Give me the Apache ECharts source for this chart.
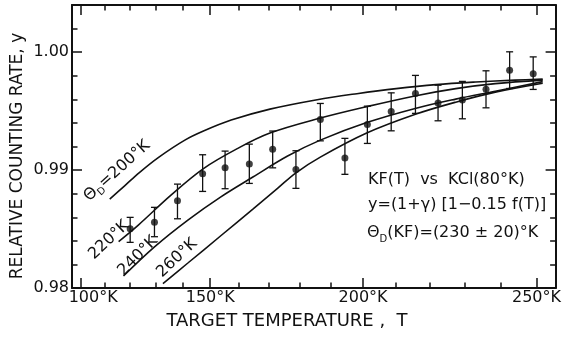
<!DOCTYPE html>
<html><head><meta charset="utf-8">
<script src="https://cdn.jsdelivr.net/npm/echarts@6/dist/echarts.min.js"></script>
<style>html,body{margin:0;padding:0;background:#fff}#c{width:564px;height:337px}</style>
</head><body><div id="c"></div>
<script>
// ---- axes (temperature axis is drawn on a T^1.5 scale, as in the original) ----
const xMinT = 96, xMaxT = 255.2;
const yMin = 0.98, yMax = 1.004;
const xMajorT = [100, 150, 200, 250];
const xMinorT = [110, 120, 130, 140, 160, 170, 180, 190, 210, 220, 230, 240];
const yMajor = [0.98, 0.99, 1.00];
const yMinor = [0.982, 0.984, 0.986, 0.988, 0.992, 0.994, 0.996, 0.998, 1.002];

// ---- measured points: KF(T) vs KCl(80°K) ----
const expT  = [120.2, 129.6, 138.2, 147.3, 155.2, 163.5, 171.3, 178.9, 186.7, 194.4, 201.3, 208.5, 215.7, 222.3, 229.3, 236.0, 242.6, 249.1];
const expY  = [0.98503, 0.98557, 0.98740, 0.98969, 0.99019, 0.99051, 0.99176, 0.99004, 0.99428, 0.99102, 0.99386, 0.99497, 0.99650, 0.99569, 0.99595, 0.99685, 0.99847, 0.99818];
const expLo = [0.98387, 0.98435, 0.98587, 0.98819, 0.98842, 0.98887, 0.99019, 0.98845, 0.99248, 0.98964, 0.99226, 0.99333, 0.99481, 0.99418, 0.99435, 0.99528, 0.99692, 0.99684];
const expHi = [0.98599, 0.98684, 0.98881, 0.99130, 0.99161, 0.99220, 0.99331, 0.99164, 0.99565, 0.99269, 0.99542, 0.99655, 0.99803, 0.99720, 0.99752, 0.99842, 1.00003, 0.99960];

// ---- theoretical curves for Θ_D = 200, 220, 240, 260 °K ----
const c200T = [112.0, 117.9, 123.8, 131.3, 140.9, 147.6, 157.3, 170.4, 185.7, 198.1, 210.0, 221.7, 233.1, 244.1, 251.7];
const c200Y = [0.98754, 0.98864, 0.98979, 0.99110, 0.99254, 0.99331, 0.99424, 0.99517, 0.99597, 0.99648, 0.99691, 0.99725, 0.99747, 0.99763, 0.99771];
const c220T = [115.6, 123.4, 135.8, 147.6, 159.4, 170.4, 186.7, 201.1, 215.9, 227.4, 238.6, 251.7];
const c220Y = [0.98394, 0.98534, 0.98788, 0.99013, 0.99182, 0.99314, 0.99441, 0.99538, 0.99631, 0.99691, 0.99733, 0.99763];
const c240T = [117.55, 129.5, 142.0, 153.6, 164.7, 176.2, 186.7, 201.1, 215.9, 227.4, 238.6, 251.7];
const c240Y = [0.98102, 0.98347, 0.98576, 0.98771, 0.98941, 0.99119, 0.99254, 0.99403, 0.99525, 0.99602, 0.99669, 0.99750];
const c260T = [132.8, 142.0, 153.6, 164.7, 173.0, 178.8, 186.7, 201.1, 215.9, 227.4, 238.6, 251.7];
const c260Y = [0.98038, 0.98212, 0.98441, 0.98669, 0.98847, 0.98975, 0.99110, 0.99314, 0.99475, 0.99576, 0.99661, 0.99737];

const FONT = 'DejaVu Sans';
const INK = '#111';
const U = t => Math.pow(t, 1.5);

function xAxisDef(pos, ticks, len, showLine, showLabel) {
  return {
    type: 'value', position: pos, min: U(xMinT), max: U(xMaxT),
    axisLine: { show: showLine, onZero: false, lineStyle: { color: INK, width: 2 } },
    axisTick: { show: true, inside: true, length: len, customValues: ticks.map(U), lineStyle: { color: INK, width: 1.5 } },
    axisLabel: {
      show: showLabel, customValues: ticks.map(U), margin: 2, color: INK, fontSize: 16, fontFamily: FONT,
      formatter: v => { const t = Math.round(Math.pow(v, 2 / 3)); return t === 100 ? '{l|100°K}' : t + '°K'; },
      rich: { l: { padding: [0, 0, 0, 24], fontSize: 16, fontFamily: FONT, color: INK } }
    },
    splitLine: { show: false }
  };
}
function yAxisDef(pos, ticks, len, showLine, showLabel) {
  return {
    type: 'value', position: pos, min: yMin, max: yMax,
    axisLine: { show: showLine, onZero: false, lineStyle: { color: INK, width: 2 } },
    axisTick: { show: true, inside: true, length: len, customValues: ticks, lineStyle: { color: INK, width: 1.5 } },
    axisLabel: { show: showLabel, customValues: ticks, margin: 3, color: INK, fontSize: 16, fontFamily: FONT,
      formatter: v => v.toFixed(2) },
    splitLine: { show: false }
  };
}
function curve(T, Y) {
  return { type: 'line', xAxisIndex: 0, yAxisIndex: 0, data: T.map((t, i) => [U(t), Y[i]]),
    smooth: 0.35, showSymbol: false, silent: true, lineStyle: { color: INK, width: 1.6 } };
}

const chart = echarts.init(document.getElementById('c'));
chart.setOption({
  animation: false,
  backgroundColor: '#fff',
  grid: { left: 72, right: 3, top: 5, bottom: 49 },
  xAxis: [
    xAxisDef('bottom', xMajorT, 10, true, true),
    xAxisDef('bottom', xMinorT, 5.5, false, false),
    xAxisDef('top', xMajorT, 10, true, false),
    xAxisDef('top', xMinorT, 5.5, false, false)
  ],
  yAxis: [
    yAxisDef('left', yMajor, 10, true, true),
    yAxisDef('left', yMinor, 5.5, false, false),
    yAxisDef('right', yMajor, 10, true, false),
    yAxisDef('right', yMinor, 5.5, false, false)
  ],
  series: [
    curve(c200T, c200Y), curve(c220T, c220Y), curve(c240T, c240Y), curve(c260T, c260Y),
    {
      type: 'custom', xAxisIndex: 0, yAxisIndex: 0, silent: true,
      data: expT.map((t, i) => [U(t), expLo[i], expHi[i]]),
      encode: { x: 0, y: [1, 2] },
      renderItem: (params, api) => {
        const lo = api.coord([api.value(0), api.value(1)]);
        const hi = api.coord([api.value(0), api.value(2)]);
        const w = 3.5, st = { stroke: INK, lineWidth: 1.3 };
        return { type: 'group', children: [
          { type: 'line', shape: { x1: lo[0], y1: lo[1], x2: hi[0], y2: hi[1] }, style: st },
          { type: 'line', shape: { x1: lo[0] - w, y1: lo[1], x2: lo[0] + w, y2: lo[1] }, style: st },
          { type: 'line', shape: { x1: hi[0] - w, y1: hi[1], x2: hi[0] + w, y2: hi[1] }, style: st }
        ]};
      }
    },
    {
      type: 'scatter', xAxisIndex: 0, yAxisIndex: 0, silent: true, symbol: 'circle', symbolSize: 7,
      itemStyle: { color: INK }, data: expT.map((t, i) => [U(t), expY[i]])
    }
  ],
  graphic: [
    { type: 'text', x: 18, y: 156, rotation: Math.PI / 2,
      style: { text: 'RELATIVE COUNTING RATE, y', fontSize: 17, fontFamily: FONT, fill: INK, textAlign: 'center', textVerticalAlign: 'middle' } },
    { type: 'text', x: 287, y: 321,
      style: { text: 'TARGET TEMPERATURE ,  T', fontSize: 18, fontFamily: FONT, fill: INK, textAlign: 'center', textVerticalAlign: 'middle' } },
    { type: 'text', x: 117, y: 171, rotation: 42 * Math.PI / 180,
      style: { text: '{a|Θ}{s|D}{a|=200°K}', textAlign: 'center', textVerticalAlign: 'middle',
        rich: { a: { fontSize: 16, fontFamily: FONT, fill: INK, lineHeight: 20, verticalAlign: 'middle' },
                s: { fontSize: 10, fontFamily: FONT, fill: INK, lineHeight: 20, verticalAlign: 'bottom' } } } },
    { type: 'text', x: 109, y: 240, rotation: 43 * Math.PI / 180,
      style: { text: '220°K', fontSize: 16, fontFamily: FONT, fill: INK, textAlign: 'center', textVerticalAlign: 'middle' } },
    { type: 'text', x: 138, y: 256, rotation: 45 * Math.PI / 180,
      style: { text: '240°K', fontSize: 16, fontFamily: FONT, fill: INK, textAlign: 'center', textVerticalAlign: 'middle' } },
    { type: 'text', x: 177, y: 258, rotation: 43 * Math.PI / 180,
      style: { text: '260°K', fontSize: 16, fontFamily: FONT, fill: INK, textAlign: 'center', textVerticalAlign: 'middle' } },
    { type: 'text', x: 368, y: 180,
      style: { text: 'KF(T)  vs  KCl(80°K)', fontSize: 16, fontFamily: FONT, fill: INK, textAlign: 'left', textVerticalAlign: 'middle' } },
    { type: 'text', x: 368, y: 205,
      style: { text: 'y=(1+γ) [1−0.15 f(T)]', fontSize: 16, fontFamily: FONT, fill: INK, textAlign: 'left', textVerticalAlign: 'middle' } },
    { type: 'text', x: 367, y: 233,
      style: { text: '{a|Θ}{s|D}{a|(KF)=(230 ± 20)°K}', textAlign: 'left', textVerticalAlign: 'middle',
        rich: { a: { fontSize: 16, fontFamily: FONT, fill: INK, lineHeight: 22, verticalAlign: 'middle' },
                s: { fontSize: 10, fontFamily: FONT, fill: INK, lineHeight: 22, verticalAlign: 'bottom' } } } }
  ]
});
</script>
</body></html>
